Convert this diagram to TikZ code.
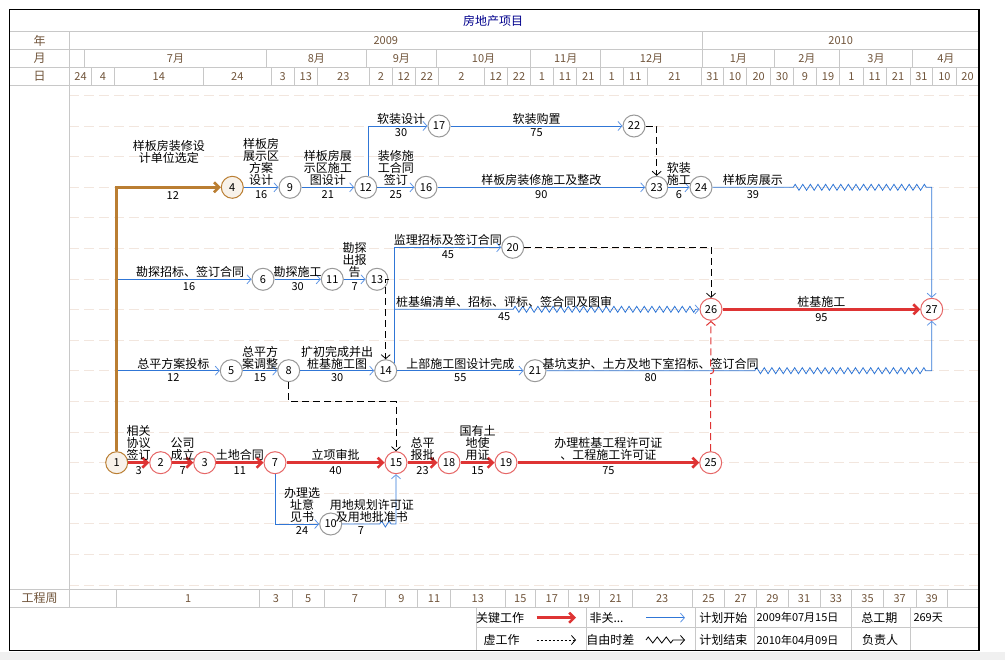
\documentclass[tikz,border=0pt]{standalone}
\usepackage{fontspec}
\setmainfont{Noto Sans CJK SC}
\usetikzlibrary{arrows.meta, positioning, calc, decorations.pathmorphing}
\definecolor{critred}{RGB}{222,52,52}
\definecolor{flowblue}{RGB}{48,118,214}
\definecolor{tipblue}{RGB}{96,150,228}
\definecolor{startbrown}{RGB}{186,126,50}
\definecolor{headbrown}{RGB}{112,84,58}
\definecolor{gridgray}{RGB}{200,200,200}
\definecolor{rowdash}{RGB}{242,230,222}
\definecolor{titlenavy}{RGB}{0,0,140}
\definecolor{stripgray}{RGB}{240,240,240}
\newcommand{\lblfont}{\fontsize{12}{12}\selectfont}
\newcommand{\numfont}{\fontsize{11}{11}\selectfont}
\tikzset{
  evt/.style={
    circle, draw=gray!80, fill=white, line width=1pt, minimum size=22pt,
    inner sep=0pt, font=\numfont
  },
  critevt/.style={evt, draw=critred!75},
  startevt/.style={evt, draw=startbrown, fill=startbrown!10},
  work/.style={draw=flowblue, line width=0.8pt, -{Straight Barb[length=4pt,width=9pt,color=tipblue]}},
  critwork/.style={draw=critred, line width=2.6pt, -{Straight Barb[length=5pt,width=10pt]}},
  trunk/.style={critwork, draw=startbrown},
  dummy/.style={draw=black, line width=0.8pt, dash pattern=on 7pt off 4pt, -{Straight Barb[length=4pt,width=9pt]}},
  critdummy/.style={dummy, draw=critred, line width=1pt},
  wavy/.style={decoration={zigzag, segment length=7.6pt, amplitude=3pt, post length=3pt}},
  lab/.style={above, inner sep=1pt, align=center, font=\lblfont},
  dur/.style={below, inner sep=2.6pt, font=\numfont},
  hdr/.style={text=headbrown, font=\numfont, inner sep=0pt},
  legtxt/.style={font=\lblfont, inner sep=0pt},
  grid line/.style={draw=gridgray, line width=0.8pt},
}
\begin{document}
\begin{tikzpicture}[x=1pt, y=-1pt]
  \useasboundingbox (0,0) rectangle (1005,660);
  \fill[stripgray] (0,652) rectangle (1005,660);

  % Body row guides
  \foreach \k in {0,...,16}
    \draw[rowdash, line width=0.8pt, dash pattern=on 10pt off 5pt] (69.3,{95.4+30.6*\k}) -- (979,{95.4+30.6*\k});

  % Time scale header
  \draw[grid line] (9.5,31.7) -- (979,31.7) (9.5,49.3) -- (979,49.3)
    (9.5,67.3) -- (979,67.3) (9.5,85.3) -- (979,85.3)
    (9.5,589.3) -- (979,589.3) (9.5,607.3) -- (979,607.3)
    (69.3,31.7) -- (69.3,607.3) (702.3,31.7) -- (702.3,49.3);
  \node[text=titlenavy, font=\lblfont] (title) at (493,20.5) {房地产项目};
  \node[hdr, font=\lblfont] (rowyear) at (39.5,40.5) {年};
  \node[hdr, font=\lblfont] (rowmonth) at (39.5,58.3) {月};
  \node[hdr, font=\lblfont] (rowday) at (39.5,76.3) {日};
  \node[hdr, font=\lblfont] (rowweek) at (39.5,598.3) {工程周};
  \node[hdr] (y2009) at (385.8,40.5) {2009};
  \node[hdr] (y2010) at (840.7,40.5) {2010};
  \foreach \a/\b/\m [count=\k] in {84.7/266.3/7月, 266.3/366.3/8月, 366.3/436.3/9月,
      436.3/530.7/10月, 530.7/600.7/11月, 600.7/702.3/12月, 702.3/774.3/1月,
      774.3/839.3/2月, 839.3/912.7/3月, 912.7/979/4月} {
    \draw[grid line] (\a,49.3) -- (\a,67.3);
    \node[hdr] (mon\k) at ({(\a+\b)/2},58.3) {\m};
  }
  \foreach \a/\b/\d [count=\k] in {69.3/91.7/24, 91.7/114.3/4, 114.3/203.3/14,
      203.3/271.3/24, 271.3/294.3/3, 294.3/317.3/13, 317.3/369.3/23, 369.3/392.3/2,
      392.3/415.3/12, 415.3/438.3/22, 438.3/484.3/2, 484.3/507.3/12, 507.3/530.7/22,
      530.7/553.3/1, 553.3/576.7/11, 576.7/600/21, 600/623.3/1, 623.3/647.3/11,
      647.3/701.7/21, 701.7/723.3/31, 723.3/746.7/10, 746.7/770.7/20, 770.7/793.3/30,
      793.3/816.7/9, 816.7/839.3/19, 839.3/863.3/1, 863.3/886/11, 886/910/21,
      910/932.7/31, 932.7/956/10, 956/979/20} {
    \draw[grid line] (\b,67.3) -- (\b,85.3);
    \node[hdr] (day\k) at ({(\a+\b)/2},76.3) {\d};
  }
  \foreach \a/\b/\w [count=\k] in {116.7/259.7/1, 259.7/292.3/3, 292.3/324.3/5,
      324.3/385.7/7, 385.7/417.3/9, 417.3/450.7/11, 450.7/505/13, 505/535.7/15,
      535.7/568/17, 568/599.3/19, 599.3/632/21, 632/692.3/23, 692.3/724.7/25,
      724.7/756.7/27, 756.7/788/29, 788/820/31, 820/851.7/33, 851.7/883.3/35,
      883.3/916/37, 916/947.3/39} {
    \draw[grid line] (\a,589.3) -- (\a,607.3) (\b,589.3) -- (\b,607.3);
    \node[hdr] (wk\k) at ({(\a+\b)/2},598.3) {\w};
  }

  % Legend
  \draw[grid line] (476.7,627.7) -- (979,627.7);
  \foreach \x in {476.7,586,695.7,754,851.7,910.7}
    \draw[grid line] (\x,607.3) -- (\x,650.5);
  \node[legtxt] (lgcrit) at (500,617.7) {关键工作};
  \node[legtxt, anchor=west] (lgnon) at (589.3,617.7) {非关...};
  \node[legtxt] (lgstart) at (723.3,617.7) {计划开始};
  \node[legtxt, font=\numfont] (lgstartd) at (797.5,617.7) {2009年07月15日};
  \node[legtxt] (lgtotal) at (879.3,617.7) {总工期};
  \node[legtxt, anchor=west, font=\numfont] (lgtotald) at (913.3,617.7) {269天};
  \node[legtxt] (lgdummy) at (501.7,640) {虚工作};
  \node[legtxt] (lgfree) at (610.3,640) {自由时差};
  \node[legtxt] (lgend) at (723.3,640) {计划结束};
  \node[legtxt, font=\numfont] (lgendd) at (797.5,640) {2010年04月09日};
  \node[legtxt] (lgboss) at (880,640) {负责人};
  \coordinate (lgA1) at (536.7,617.7); \coordinate (lgA2) at (576,617.7);
  \coordinate (lgB1) at (646,617.7);   \coordinate (lgB2) at (685,617.7);
  \coordinate (lgC1) at (536.7,640);   \coordinate (lgC2) at (576,640);
  \coordinate (lgD1) at (646,640);     \coordinate (lgD2) at (685,640);
  \draw[critwork] (lgA1) -- (lgA2);
  \draw[work] (lgB1) -- (lgB2);
  \draw[dummy, dash pattern=on 2pt off 2pt] (lgC1) -- (lgC2);
  \draw[black, line width=0.8pt, -{Straight Barb[length=4pt,width=9pt]},
    decoration={zigzag, segment length=9pt, amplitude=3pt}]
    (lgD1) decorate {-- ($(lgD1)!0.72!(lgD2)$)} -- (lgD2);

  % Events
  \node[startevt] (e1) at (116.7,462.7) {1};
  \node[critevt] (e2) at (160.7,462.7) {2};
  \node[critevt] (e3) at (204.7,462.7) {3};
  \node[critevt] (e7) at (275,462.7) {7};
  \node[critevt] (e15) at (396,462.7) {15};
  \node[critevt] (e18) at (449,462.7) {18};
  \node[critevt] (e19) at (506,462.7) {19};
  \node[critevt] (e25) at (710.7,462.7) {25};
  \node[evt] (e10) at (330.7,524) {10};
  \node[evt] (e5) at (231.3,370.7) {5};
  \node[evt] (e8) at (288.7,370.7) {8};
  \node[evt] (e14) at (385.7,370.7) {14};
  \node[evt] (e21) at (535,370.7) {21};
  \node[evt] (e6) at (263,279.3) {6};
  \node[evt] (e11) at (332.3,279.3) {11};
  \node[evt] (e13) at (377,279.3) {13};
  \node[evt] (e20) at (512.7,247.3) {20};
  \node[critevt] (e26) at (711,309.3) {26};
  \node[critevt] (e27) at (931.7,309.3) {27};
  \node[startevt] (e4) at (232.3,187.3) {4};
  \node[evt] (e9) at (290,187.3) {9};
  \node[evt] (e12) at (365.7,187.3) {12};
  \node[evt] (e16) at (426,187.3) {16};
  \node[evt] (e17) at (439,126) {17};
  \node[evt] (e22) at (634,126) {22};
  \node[evt] (e23) at (656.7,187.3) {23};
  \node[evt] (e24) at (701,187.3) {24};
  \coordinate (hop) at (e25 |- e21);

  % Works from the start event
  \draw[work] (e1) |- node[lab, pos=0.75, xshift=6pt] {勘探招标、签订合同} node[dur, pos=0.75, xshift=5pt] {16} (e6);
  \draw[work] (e1) |- node[lab, pos=0.75, xshift=5pt] {总平方案投标} node[dur, pos=0.75, xshift=5pt] {12} (e5);
  \draw[trunk] (e1) |- node[lab, pos=0.75, yshift=22pt] {样板房装修设\\计单位选定} node[dur, pos=0.75, xshift=4pt] {12} (e4);

  % Show-flat line
  \draw[work] (e4) -- node[lab] {样板房\\展示区\\方案\\设计} node[dur] {16} (e9);
  \draw[work] (e9) -- node[lab] {样板房展\\示区施工\\图设计} node[dur] {21} (e12);
  \draw[work] (e12) -- node[lab] {装修施\\工合同\\签订} node[dur] {25} (e16);
  \draw[work] (e12.75) |- node[lab, pos=0.75, xshift=3pt] {软装设计} node[dur, pos=0.75, xshift=3pt] {30} (e17);
  \draw[work] (e17) -- node[lab] {软装购置} node[dur] {75} (e22);
  \draw[dummy] (e22) -| (e23);
  \draw[work] (e16) -- node[lab] {样板房装修施工及整改} node[dur] {90} (e23);
  \draw[work] (e23) -- node[lab] {软装\\施工} node[dur] {6} (e24);
  \draw[work] (e24) -- node[lab] {样板房展示} node[dur] {39} ($(e24)!0.4!(e24 -| e27)$)
    decorate[wavy] {-- (e24 -| e27)} -- (e27);

  % Survey and design
  \draw[work] (e6) -- node[lab] {勘探施工} node[dur] {30} (e11);
  \draw[work] (e11) -- node[lab] {勘探\\出报\\告} node[dur] {7} (e13);
  \draw[dummy] (e13.east) -| (e14);
  \draw[work] (e5) -- node[lab] {总平方\\案调整} node[dur] {15} (e8);
  \draw[work] (e8) -- node[lab] {扩初完成并出\\桩基施工图} node[dur] {30} (e14);
  \draw[dummy] (e8) -- ++(0,31) -| (e15);
  \draw[work] (e14) -- node[lab] {上部施工图设计完成} node[dur] {55} (e21);
  \draw[work] (e14.40) |- node[lab, pos=0.75] {监理招标及签订合同} node[dur, pos=0.75] {45} (e20);
  \draw[dummy] (e20) -| (e26);
  \draw[work] (e14.40) |- node[lab, pos=0.962] {桩基编清单、招标、评标、签合同及图审} node[dur, pos=0.962] {45}
    ($(e14.40 |- e26)!0.375!(e26)$) decorate[wavy] {-- (e26)};
  \draw[work] (e21) -- node[lab] {基坑支护、土方及地下室招标、签订合同} node[dur] {80} ($(e21)!0.554!(e21 -| e27)$)
    decorate[wavy] {-- (e21 -| e27)} -- (e27);

  % Critical path
  \draw[critwork] (e1) -- node[lab, font=\fontsize{12}{10.5}\selectfont] {相关\\协议\\签订} node[dur] {3} (e2);
  \draw[critwork] (e2) -- node[lab, font=\fontsize{12}{10.5}\selectfont] {公司\\成立} node[dur] {7} (e3);
  \draw[critwork] (e3) -- node[lab] {土地合同} node[dur] {11} (e7);
  \draw[critwork] (e7) -- node[lab] {立项审批} node[dur] {40} (e15);
  \draw[critwork] (e15) -- node[lab] {总平\\报批} node[dur] {23} (e18);
  \draw[critwork] (e18) -- node[lab] {国有土\\地使\\用证} node[dur] {15} (e19);
  \draw[critwork] (e19) -- node[lab] {办理桩基工程许可证\\、工程施工许可证} node[dur] {75} (e25);
  \draw[critdummy] (e25) -- ($(hop)+(0,3)$) arc[start angle=90, end angle=-90, radius=3] -- (e26);
  \draw[critwork] (e26) -- node[lab] {桩基施工} node[dur] {95} (e27);

  % Site approvals
  \draw[work] (e7) |- node[lab, pos=0.75, xshift=5pt] {办理选\\址意\\见书} node[dur, pos=0.75, xshift=5pt] {24} (e10);
  \draw[work] (e10) -- node[lab, xshift=11pt] {用地规划许可证\\及用地批准书} node[dur] {7} ($(e10)!0.75!(e10 -| e15)$)
    decorate[wavy] {-- (e10 -| e15)} -- (e15);

  % Frame
  \draw[black, line width=1.2pt] (9.5,9.5) rectangle (979,650.5);
\end{tikzpicture}
\end{document}
